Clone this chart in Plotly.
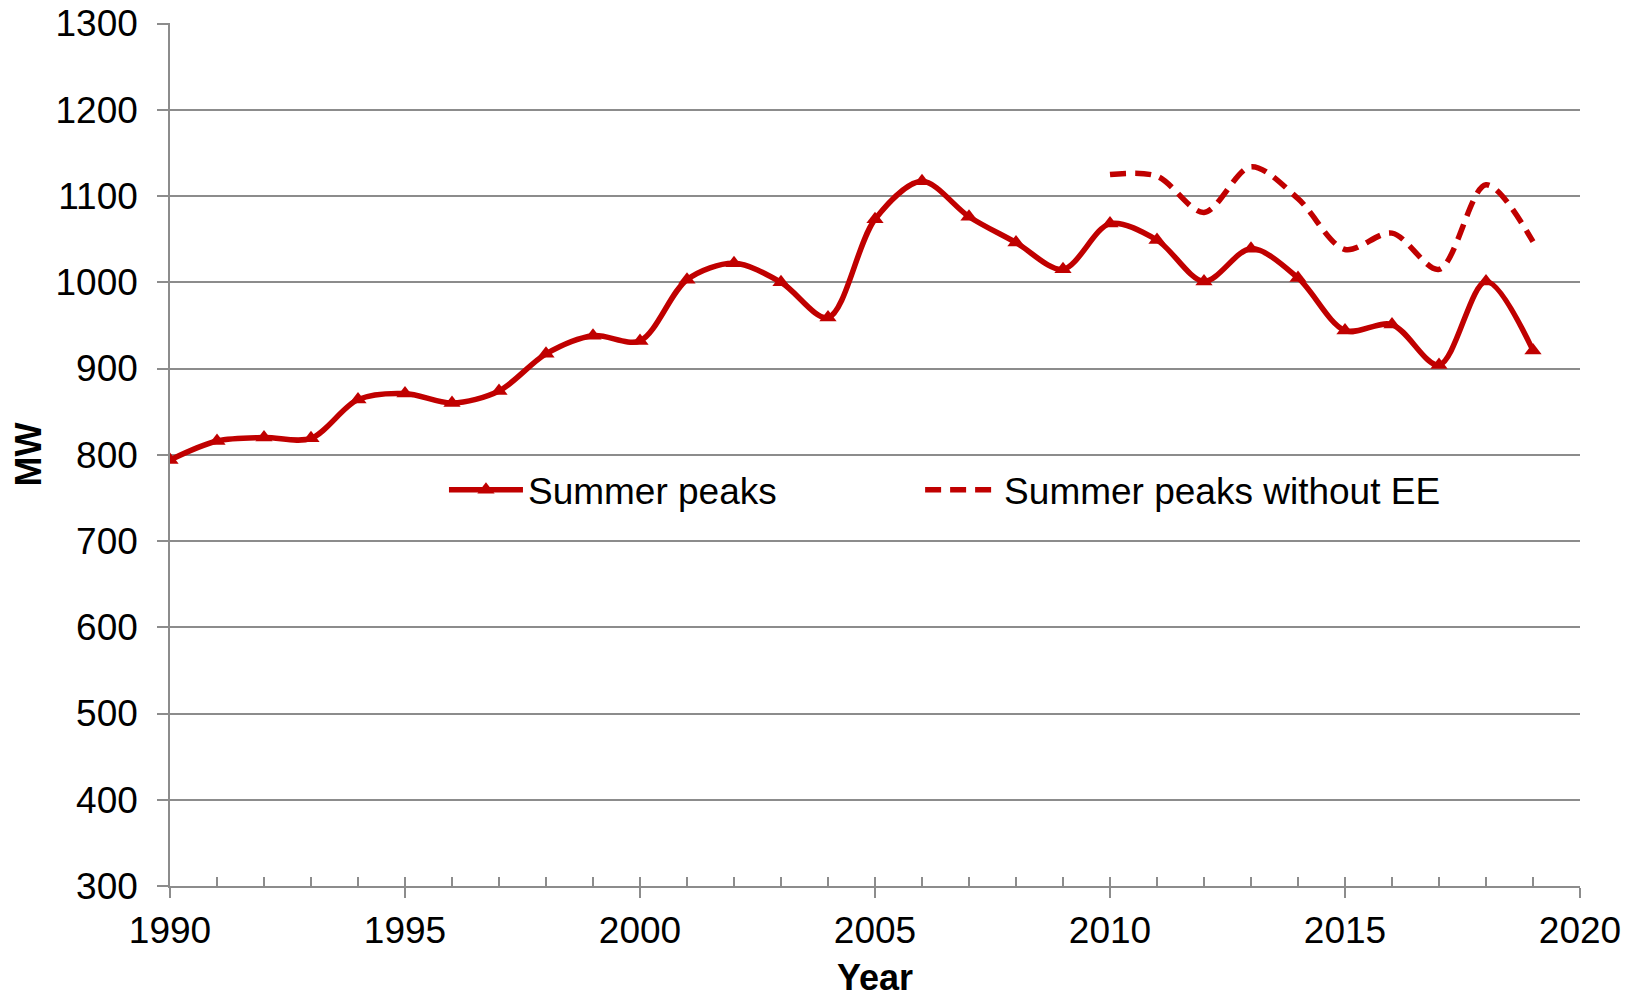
import plotly.graph_objects as go

years = list(range(1990, 2020))
summer_peaks = [794, 816, 820, 819, 864, 871, 860, 874, 917, 938,
                932, 1003, 1022, 1000, 959, 1073, 1117, 1076, 1046, 1015,
                1068, 1049, 1001, 1039, 1005, 944, 951, 904, 1001, 921]
years_ee = list(range(2010, 2020))
summer_peaks_no_ee = [1125, 1123, 1081, 1134, 1097, 1038, 1057, 1015, 1113, 1047]

RED = "#C00000"
GRID = "#8C8C8C"
FONT = "Liberation Sans, Arial, sans-serif"

fig = go.Figure()
fig.add_trace(go.Scatter(
    x=years, y=summer_peaks, name="Summer peaks", mode="lines+markers",
    line=dict(color=RED, width=5.5, shape="spline", smoothing=0.9),
    marker=dict(symbol="triangle-up", size=15, color=RED),
    legend="legend",
))
fig.add_trace(go.Scatter(
    x=years_ee, y=summer_peaks_no_ee, name="Summer peaks without EE", mode="lines",
    line=dict(color=RED, width=5.5, shape="spline", smoothing=0.9, dash="16px,9px"),
    legend="legend2",
))
# invisible helper trace for the minor-tick overlay axis
fig.add_trace(go.Scatter(x=[1990, 2020], y=[300, 300], xaxis="x2", mode="lines",
                         line=dict(width=0), showlegend=False, hoverinfo="skip"))

legend_common = dict(orientation="h", xanchor="left", yanchor="middle",
                     bgcolor="rgba(0,0,0,0)", font=dict(size=37, family=FONT),
                     itemwidth=74)

fig.update_layout(
    width=1623, height=997,
    margin=dict(l=162, r=51, t=15, b=119),
    paper_bgcolor="white", plot_bgcolor="white",
    font=dict(family=FONT, size=37, color="black"),
    showlegend=True,
    legend=dict(x=0.1943, y=0.4587, **legend_common),
    legend2=dict(x=0.532, y=0.4587, **legend_common),
    xaxis=dict(
        range=[1990, 2020], tickmode="linear", tick0=1990, dtick=5,
        showgrid=False, zeroline=False, automargin=False,
        showline=True, linecolor=GRID, linewidth=1.5,
        ticks="outside", ticklen=10, tickwidth=1.5, tickcolor=GRID,
        ticklabelstandoff=1, ticklabeloverflow="allow",
        tickfont=dict(size=37, family=FONT),
        title=dict(text="<b>Year</b>", font=dict(size=36, family=FONT), standoff=15),
    ),
    xaxis2=dict(
        range=[1990, 2020], overlaying="x", side="bottom", anchor="y",
        tickmode="linear", tick0=1990, dtick=1, ticks="inside", ticklen=9,
        tickwidth=1.5, tickcolor=GRID, showticklabels=False, showgrid=False,
        zeroline=False, showline=False,
    ),
    yaxis=dict(
        range=[300, 1300.6], tickmode="linear", tick0=300, dtick=100,
        showgrid=True, gridcolor=GRID, gridwidth=1.5, zeroline=False,
        automargin=False,
        showline=True, linecolor=GRID, linewidth=1.5,
        ticks="outside", ticklen=11, tickwidth=1.5, tickcolor=GRID,
        ticklabelstandoff=12, ticklabeloverflow="allow",
        tickfont=dict(size=37, family=FONT),
        title=dict(text="<b>MW</b>", font=dict(size=36, family=FONT), standoff=21),
    ),
)

fig.write_html("out.html")
